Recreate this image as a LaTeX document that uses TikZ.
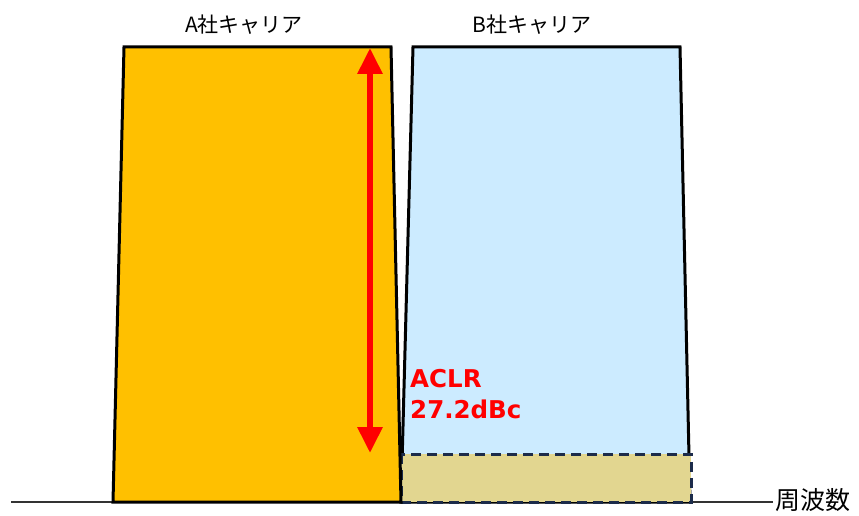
\documentclass[tikz,border=0pt]{standalone}
\usepackage{fontspec}
\setmainfont{DejaVu Sans}
\newfontfamily\jpfont{Noto Sans CJK JP}
\usetikzlibrary{arrows.meta}
\definecolor{carrierA}{HTML}{FFC000}
\definecolor{carrierB}{HTML}{CCEBFF}
\definecolor{leak}{HTML}{E2D690}
\definecolor{leakline}{HTML}{1C2B4A}
\begin{document}
\begin{tikzpicture}
    [x=1pt, y=-1pt, >=stealth,
     band/.style={draw=black, line width=3pt, line join=miter},
     title/.style={font=\jpfont\fontsize{21}{24}\selectfont, inner sep=0pt}]
  \useasboundingbox (0,0) rectangle (859,516);

  \draw[-, line width=1.3pt, draw=black!80] (11,502) -- (773,502);
  \node (freq) [anchor=west, inner sep=0pt, font=\jpfont\fontsize{25}{28}\selectfont] at (775,500) {周波数};

  \filldraw[band, fill=carrierB] (413,47) -- (680,47) -- (690,502) -- (401,502) -- cycle;
  \filldraw[fill=leak, draw=leakline, line width=3pt, dash pattern=on 10pt off 6pt] (401,454) rectangle (691,502);
  \filldraw[band, fill=carrierA] (124,47) -- (391,47) -- (401,502) -- (113,502) -- cycle;

  \node (labA) [title] at (244,25) {A社キャリア};
  \node (labB) [title] at (532,25) {B社キャリア};

  \coordinate (top) at (370,48);
  \coordinate (bot) at (370,453);
  \draw[{Triangle[length=26pt,width=24pt]}-{Triangle[length=26pt,width=24pt]}, line width=6pt, red] (top) -- (bot);

  \node (aclr) [anchor=north west, align=left, inner sep=0pt, text=red,
    font=\bfseries\fontsize{24.5}{31}\selectfont] at (410,369) {ACLR\\27.2dBc};
\end{tikzpicture}
\end{document}
